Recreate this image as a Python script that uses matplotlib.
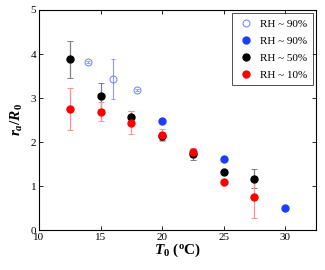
import numpy as np
import matplotlib
matplotlib.use("Agg")
import matplotlib.pyplot as plt
from matplotlib.lines import Line2D

plt.rcParams['font.family'] = 'Liberation Serif'
plt.rcParams['mathtext.fontset'] = 'custom'
plt.rcParams['mathtext.rm'] = 'Liberation Serif:bold'
plt.rcParams['mathtext.it'] = 'Liberation Serif:italic:bold'
plt.rcParams['mathtext.bf'] = 'Liberation Serif:bold'

# RH ~ 90% (open)
t_open = [14, 16, 18]
r_open = [3.82, 3.43, 3.18]
e_open = [0.03, 0.45, 0.03]

# RH ~ 90% (filled)
t_blue = [20, 25, 30]
r_blue = [2.47, 1.61, 0.51]

# RH ~ 50%
t_black = [12.5, 15, 17.5, 20, 22.5, 25, 27.5]
r_black = [3.88, 3.04, 2.57, 2.13, 1.72, 1.33, 1.17]
e_black = [0.42, 0.30, 0.14, 0.08, 0.13, 0.0, 0.21]

# RH ~ 10%
t_red = [12.5, 15, 17.5, 20, 22.5, 25, 27.5]
r_red = [2.75, 2.69, 2.44, 2.16, 1.77, 1.10, 0.75]
e_red = [0.48, 0.21, 0.26, 0.13, 0.10, 0.0, 0.48]

labels = ['RH ~ 90%', 'RH ~ 90%', 'RH ~ 50%', 'RH ~ 10%']

fig = plt.figure(figsize=(3.25, 2.7), dpi=100)
ax = fig.add_axes([0.12, 0.148, 0.852, 0.815])

ms = 5
c_open = '#6f7cff'
c_blue = '#1f3cff'
ax.errorbar(t_open, r_open, yerr=e_open, fmt='o', mfc='none', mec=c_open, mew=0.7,
            ms=ms, ecolor='#8f99ff', elinewidth=0.8, capsize=1.5, capthick=0.6)
ax.plot(t_blue, r_blue, 'o', color=c_blue, ms=ms)
ax.errorbar(t_black, r_black, yerr=e_black, fmt='o', color='black', ms=ms,
            ecolor='#808080', elinewidth=0.9, capsize=2, capthick=0.7)
ax.errorbar(t_red, r_red, yerr=e_red, fmt='o', color='#ff0000', ms=ms,
            ecolor='#ff9090', elinewidth=0.9, capsize=2, capthick=0.7)

ax.set_xlim(10, 32.5)
ax.set_ylim(0, 5)
ax.set_xticks([10, 15, 20, 25, 30])
ax.set_yticks([0, 1, 2, 3, 4, 5])
ax.tick_params(direction='in', top=True, right=True, labelsize=8, length=3, width=0.6, pad=2)
for s in ax.spines.values():
    s.set_linewidth(0.8)

ax.set_xlabel(r'$T_0\ \mathrm{(^oC)}$', fontsize=11, labelpad=0)
ax.set_ylabel(r'$r_a/R_0$', fontsize=11, labelpad=4)

handles = [
    Line2D([], [], ls='none', marker='o', mfc='none', mec=c_open, mew=0.7, ms=ms),
    Line2D([], [], ls='none', marker='o', color=c_blue, ms=ms),
    Line2D([], [], ls='none', marker='o', color='black', ms=ms),
    Line2D([], [], ls='none', marker='o', color='#ff0000', ms=ms),
]
leg = ax.legend(handles, labels, loc='upper right', fontsize=8, frameon=True, fancybox=False,
                edgecolor='black', handletextpad=0.4, borderpad=0.5,
                labelspacing=0.65, handlelength=1.6, borderaxespad=0.3)
leg.get_frame().set_linewidth(0.6)

fig.savefig('out.png', dpi=100)
